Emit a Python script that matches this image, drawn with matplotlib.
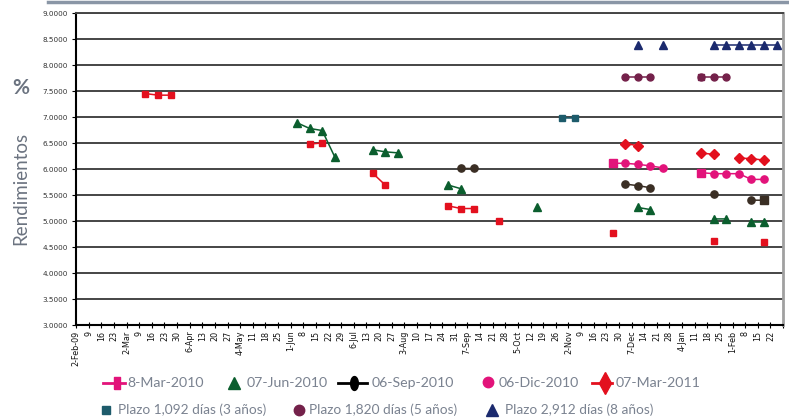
import numpy as np
import matplotlib
matplotlib.use('Agg')
import matplotlib.pyplot as plt
from matplotlib.lines import Line2D
from matplotlib.path import Path

# weekly categories on the x axis
weeks = ['2-Feb-09', '9', '16', '23', '2-Mar', '9', '16', '23', '30', '6-Apr', '13', '20', '27',
         '4-May', '11', '18', '25', '1-Jun', '8', '15', '22', '29', '6-Jul', '13', '20', '27',
         '3-Aug', '10', '17', '24', '31', '7-Sep', '14', '21', '28', '5-Oct', '12', '19', '26',
         '2-Nov', '9', '16', '23', '30', '7-Dec', '14', '21', '28', '4-Jan', '11', '18', '25',
         '1-Feb', '8', '15', '22']

# series: week index -> yield (%)
red_sq_idx = [5, 6, 7, 18, 19, 23, 24, 29, 30, 31, 33, 42, 50, 54]
red_sq_val = [7.45, 7.42, 7.42, 6.48, 6.50, 5.92, 5.69, 5.29, 5.24, 5.24, 5.00, 4.77, 4.61, 4.59]

green_idx = [17, 18, 19, 20, 23, 24, 25, 29, 30, 36, 44, 45, 50, 51, 53, 54]
green_val = [6.89, 6.78, 6.74, 6.23, 6.37, 6.33, 6.31, 5.69, 5.62, 5.27, 5.26, 5.22, 5.04, 5.04, 4.98, 4.98]

brown_idx = [30, 31, 43, 44, 45, 50, 53, 54]
brown_val = [6.01, 6.01, 5.71, 5.68, 5.64, 5.51, 5.40, 5.40]

pink_idx = [42, 43, 44, 45, 46, 49, 50, 51, 52, 53, 54]
pink_val = [6.11, 6.11, 6.09, 6.06, 6.02, 5.93, 5.91, 5.91, 5.91, 5.80, 5.80]

diam_idx = [43, 44, 49, 50, 52, 53, 54]
diam_val = [6.49, 6.45, 6.31, 6.28, 6.21, 6.20, 6.17]

teal_idx = [38, 39]
teal_val = [6.98, 6.98]

maroon_idx = [43, 44, 45, 49, 50, 51]
maroon_val = [7.76, 7.76, 7.76, 7.76, 7.76, 7.76]

navy_idx = [44, 46, 50, 51, 52, 53, 54, 55]
navy_val = [8.39, 8.39, 8.39, 8.39, 8.39, 8.39, 8.39, 8.39]

# points drawn with a square marker instead of the series marker
pink_sq_pts = [42, 49]
maroon_sq_pts = [49]
brown_sq_pts = [54]

legend_row1 = ['8-Mar-2010', '07-Jun-2010', '06-Sep-2010', '06-Dic-2010', '07-Mar-2011']
legend_row2 = ['Plazo 1,092 días (3 años)', 'Plazo 1,820 días (5 años)', 'Plazo 2,912 días (8 años)']

RED = '#e3101e'
GREEN = '#0b5e2e'
BROWN = '#3a2e24'
PINK = '#e2137a'
TEAL = '#1d5b6b'
MAROON = '#74214a'
NAVY = '#1b2a6e'
GREY_TXT = '#7a8290'

W, H = 789, 418
n = len(weeks)
xpos = np.arange(n) + 0.5


def full(idx, val):
    s = np.full(n, np.nan)
    s[idx] = val
    return s


fig = plt.figure(figsize=(W / 100, H / 100), dpi=100)
ax = fig.add_axes([76 / W, 1 - 325 / H, (783 - 76) / W, (325 - 13) / H])

ax.plot(xpos, full(red_sq_idx, red_sq_val), color=RED, lw=1.1, marker='s', ms=4.2, zorder=3)
ax.plot(xpos, full(green_idx, green_val), color=GREEN, lw=1.1, marker='^', ms=5.8, zorder=3)
ax.plot(xpos, full(brown_idx, brown_val), color=BROWN, lw=1.1, marker='o', ms=5.2, zorder=3)
ax.plot(xpos, full(pink_idx, pink_val), color=PINK, lw=1.1, marker='o', ms=5.2, zorder=3)
ax.plot(xpos, full(diam_idx, diam_val), color=RED, lw=1.1, marker='D', ms=4.8, zorder=3)
ax.plot(xpos, full(teal_idx, teal_val), color=TEAL, lw=1.1, marker='s', ms=5, zorder=3)
ax.plot(xpos, full(maroon_idx, maroon_val), color=MAROON, lw=1.1, marker='o', ms=5, zorder=3)
ax.plot(xpos, full(navy_idx, navy_val), color=NAVY, lw=1.1, marker='^', ms=5.8, zorder=3,
        clip_on=False)

# single points with square markers
pink_s = full(pink_idx, pink_val)
ax.plot(xpos[pink_sq_pts], pink_s[pink_sq_pts], ls='none', marker='s', ms=5.2, color=PINK, zorder=4)
maroon_s = full(maroon_idx, maroon_val)
ax.plot(xpos[maroon_sq_pts], maroon_s[maroon_sq_pts], ls='none', marker='s', ms=5, color=MAROON, zorder=4)
brown_s = full(brown_idx, brown_val)
ax.plot(xpos[brown_sq_pts], brown_s[brown_sq_pts], ls='none', marker='s', ms=5.2, color=BROWN, zorder=4)

ax.set_xlim(0, n)
ax.set_ylim(3, 9)
ax.set_yticks(np.arange(3, 9.01, 0.5))
ax.set_yticklabels([f'{v:.4f}' for v in np.arange(3, 9.01, 0.5)], fontsize=5.2, color='#333333')
ax.set_xticks(np.arange(n + 1))
ax.set_xticklabels(weeks + [''], rotation=90, fontsize=5.8, color='#111111')
ax.tick_params(axis='x', direction='inout', length=4, width=0.8, pad=2)
ax.tick_params(axis='y', direction='out', length=3, width=0.8, pad=3)
ax.yaxis.grid(True, color='#454545', lw=1.4)
ax.set_axisbelow(True)
for side in ['left', 'bottom']:
    ax.spines[side].set_color('black')
    ax.spines[side].set_linewidth(1.5)
ax.spines['top'].set_color('#454545')
ax.spines['top'].set_linewidth(1.4)
ax.spines['right'].set_color('#a0a0a0')
ax.spines['right'].set_linewidth(2)

# axis titles
fig.text(20.5 / W, 1 - 88 / H, '%', fontsize=15, fontweight='bold', color='#6b7380',
         ha='center', va='center', family='Lato')
fig.text(20.5 / W, 1 - 188 / H, 'Rendimientos', fontsize=13.5, rotation=90, color='#6b7380',
         ha='center', va='center', family='Lato')

# top decorative border
fig.add_artist(Line2D([48 / W, 1], [1 - 1.5 / H, 1 - 1.5 / H], transform=fig.transFigure,
                      color='#8a96a6', lw=2.5))

# legend (drawn by hand to follow the reference layout)
t = np.linspace(0, 2 * np.pi, 40)
ellipse = Path(np.column_stack([0.55 * np.cos(t), np.sin(t)]))
tall_rect = Path([(-0.6, -1), (0.6, -1), (0.6, 1), (-0.6, 1), (-0.6, -1)])


def fx(x):
    return x / W


def fy(y):
    return 1 - y / H


def key(x0, x1, xm, y, color, marker, ms, line=True):
    if line:
        fig.add_artist(Line2D([fx(x0), fx(x1)], [fy(y), fy(y)], transform=fig.transFigure,
                              color=color, lw=2))
    fig.add_artist(Line2D([fx(xm)], [fy(y)], transform=fig.transFigure, color=color,
                          marker=marker, ms=ms, ls='none'))


y1, y2 = 383, 410
key(103, 125, 117, y1, PINK, tall_rect, 8)
key(0, 0, 234, y1, GREEN, '^', 9, line=False)
key(338, 367, 354, y1, 'black', ellipse, 10)
key(0, 0, 487.5, y1 - 1, PINK, 'o', 7.5, line=False)
key(592, 612, 605, y1, RED, 'd', 11)
key(0, 0, 106, y2, TEAL, 's', 6, line=False)
key(0, 0, 299, y2, MAROON, 'o', 7.5, line=False)
key(0, 0, 492, y2, NAVY, '^', 9, line=False)

for xs, lab in zip([127, 247, 372, 499, 616], legend_row1):
    fig.text(fx(xs), fy(y1), lab, fontsize=10.2, color=GREY_TXT, ha='left', va='center', family='Lato')
for xs, lab in zip([118, 309, 505], legend_row2):
    fig.text(fx(xs), fy(y2), lab, fontsize=9.8, color=GREY_TXT, ha='left', va='center', family='Lato')

fig.savefig('out.png', dpi=100)
